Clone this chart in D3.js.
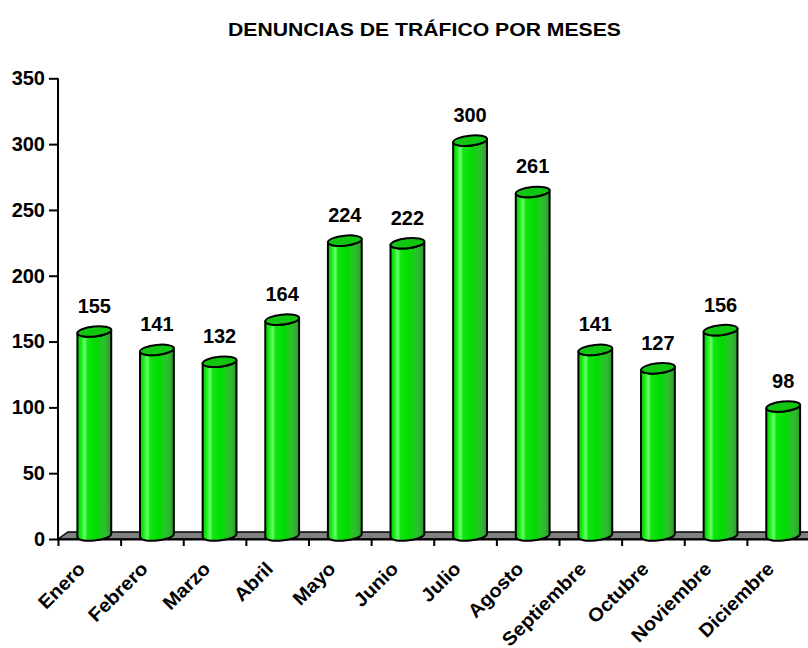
<!DOCTYPE html>
<html lang="es">
<head>
    <meta charset="UTF-8">
    <title>Denuncias de tráfico</title>
    <style>
        body { margin: 0; background: #fff; }
        text { font-family: Arial, "Liberation Sans", sans-serif; font-weight: bold; fill: #000; }
    </style>
</head>
<body>
<script src="https://d3js.org/d3.v7.min.js"></script>
<script>
    // data
    const months = ["Enero", "Febrero", "Marzo", "Abril", "Mayo", "Junio", "Julio",
        "Agosto", "Septiembre", "Octubre", "Noviembre", "Diciembre"];
    const denuncias = [155, 141, 132, 164, 224, 222, 300, 261, 141, 127, 156, 98];
    const yTicks = [0, 50, 100, 150, 200, 250, 300, 350];
    const title = "DENUNCIAS DE TRÁFICO POR MESES";

    const W = 808, H = 648;
    const plotLeft = 58, plotRight = 809.5, plotTop = 78.3, plotBottom = 539;
    const depthX = 10, depthY = 7;   // floor depth

    const svg = d3.select("body").append("svg")
        .attr("width", W)
        .attr("height", H);

    // gradient for the cylinders
    const defs = svg.append("defs");
    const grad = defs.append("linearGradient").attr("id", "cyl")
        .attr("x1", "0").attr("x2", "1").attr("y1", "0").attr("y2", "0");
    [[0, "#00c800"], [0.1, "#14ea14"], [0.22, "#66ff66"], [0.3, "#10e410"],
     [0.55, "#00dc00"], [0.72, "#22c822"], [0.86, "#34b434"], [1, "#1f9c1f"]]
        .forEach(s => grad.append("stop").attr("offset", s[0]).attr("stop-color", s[1]));

    // title
    svg.append("text")
        .attr("x", 424.5)
        .attr("y", 36)
        .attr("text-anchor", "middle")
        .attr("font-size", 17.5)
        .attr("textLength", 393)
        .attr("lengthAdjust", "spacingAndGlyphs")
        .text(title);

    // scales
    const y = d3.scaleLinear().domain([0, 350]).range([plotBottom, plotTop]);
    const xBand = d3.scaleBand().domain(months).range([plotLeft, plotRight]);
    const xIdx = d3.scaleLinear().domain([0, months.length]).range([plotLeft, plotRight]);

    // floor
    const y0 = y(0);
    svg.append("path")
        .attr("d", `M${plotLeft},${y0} L${plotLeft + depthX},${y0 - depthY} L${plotRight + depthX},${y0 - depthY} L${plotRight},${y0} Z`)
        .attr("fill", "#808080")
        .attr("stroke", "#000")
        .attr("stroke-width", 1.5);

    // y axis
    const yAxis = svg.append("g")
        .attr("transform", `translate(${plotLeft},0)`)
        .call(d3.axisLeft(y).tickValues(yTicks).tickSize(9).tickPadding(4).tickSizeOuter(0));
    yAxis.select(".domain").attr("stroke-width", 2).attr("d", `M0,${plotTop}V${plotBottom}`);
    yAxis.selectAll(".tick line").attr("stroke-width", 2);
    yAxis.selectAll(".tick text").attr("font-size", 20).attr("font-family", null);

    // x axis (ticks between categories)
    const xAxis = svg.append("g")
        .attr("transform", `translate(0,${plotBottom})`)
        .call(d3.axisBottom(xIdx).tickValues(d3.range(months.length + 1)).tickFormat("").tickSize(7).tickSizeOuter(0));
    xAxis.select(".domain").attr("stroke-width", 2);
    xAxis.selectAll(".tick line").attr("stroke-width", 2);

    // month labels
    svg.append("g").selectAll("text")
        .data(months)
        .enter().append("text")
        .attr("font-size", 19)
        .attr("text-anchor", "end")
        .attr("transform", d => `translate(${xBand(d) + xBand.bandwidth() / 2 - 3},${plotBottom + 31}) rotate(-45) scale(1.06,1)`)
        .text(d => d);

    // cylinders
    const rx = 17, ry = 5, theta = -6 * Math.PI / 180;
    const cosT = Math.cos(theta), sinT = Math.sin(theta);
    // leftmost / rightmost points of a tilted ellipse
    const tExt = Math.atan2(-ry * sinT, rx * cosT);
    const ex = rx * Math.cos(tExt) * cosT - ry * Math.sin(tExt) * sinT;
    const ey = rx * Math.cos(tExt) * sinT + ry * Math.sin(tExt) * cosT;
    const rot = theta * 180 / Math.PI;

    const bars = svg.append("g").selectAll("g")
        .data(months.map((m, i) => ({month: m, value: denuncias[i]})))
        .enter().append("g");

    bars.append("path")
        .attr("fill", "url(#cyl)")
        .attr("stroke", "#000")
        .attr("stroke-width", 2)
        .attr("stroke-linejoin", "round")
        .attr("d", d => {
            const cx = xBand(d.month) + xBand.bandwidth() / 2 + depthX / 2;
            const yt = y(d.value) - depthY / 2;
            const yb = y(0) - depthY / 2;
            return `M${cx - ex},${yt - ey} L${cx - ex},${yb - ey}` +
                ` A${rx},${ry} ${rot} 0 0 ${cx + ex},${yb + ey}` +
                ` L${cx + ex},${yt + ey}` +
                ` A${rx},${ry} ${rot} 0 1 ${cx - ex},${yt - ey} Z`;
        });

    bars.append("ellipse")
        .attr("fill", "#10c610")
        .attr("stroke", "#000")
        .attr("stroke-width", 2)
        .attr("rx", rx)
        .attr("ry", ry)
        .attr("transform", d => `translate(${xBand(d.month) + xBand.bandwidth() / 2 + depthX / 2},${y(d.value) - depthY / 2}) rotate(${rot})`);

    // value labels
    bars.append("text")
        .attr("font-size", 20)
        .attr("text-anchor", "middle")
        .attr("x", d => xBand(d.month) + xBand.bandwidth() / 2 + depthX / 2)
        .attr("y", d => y(d.value) - 22)
        .text(d => d.value);
</script>
</body>
</html>
